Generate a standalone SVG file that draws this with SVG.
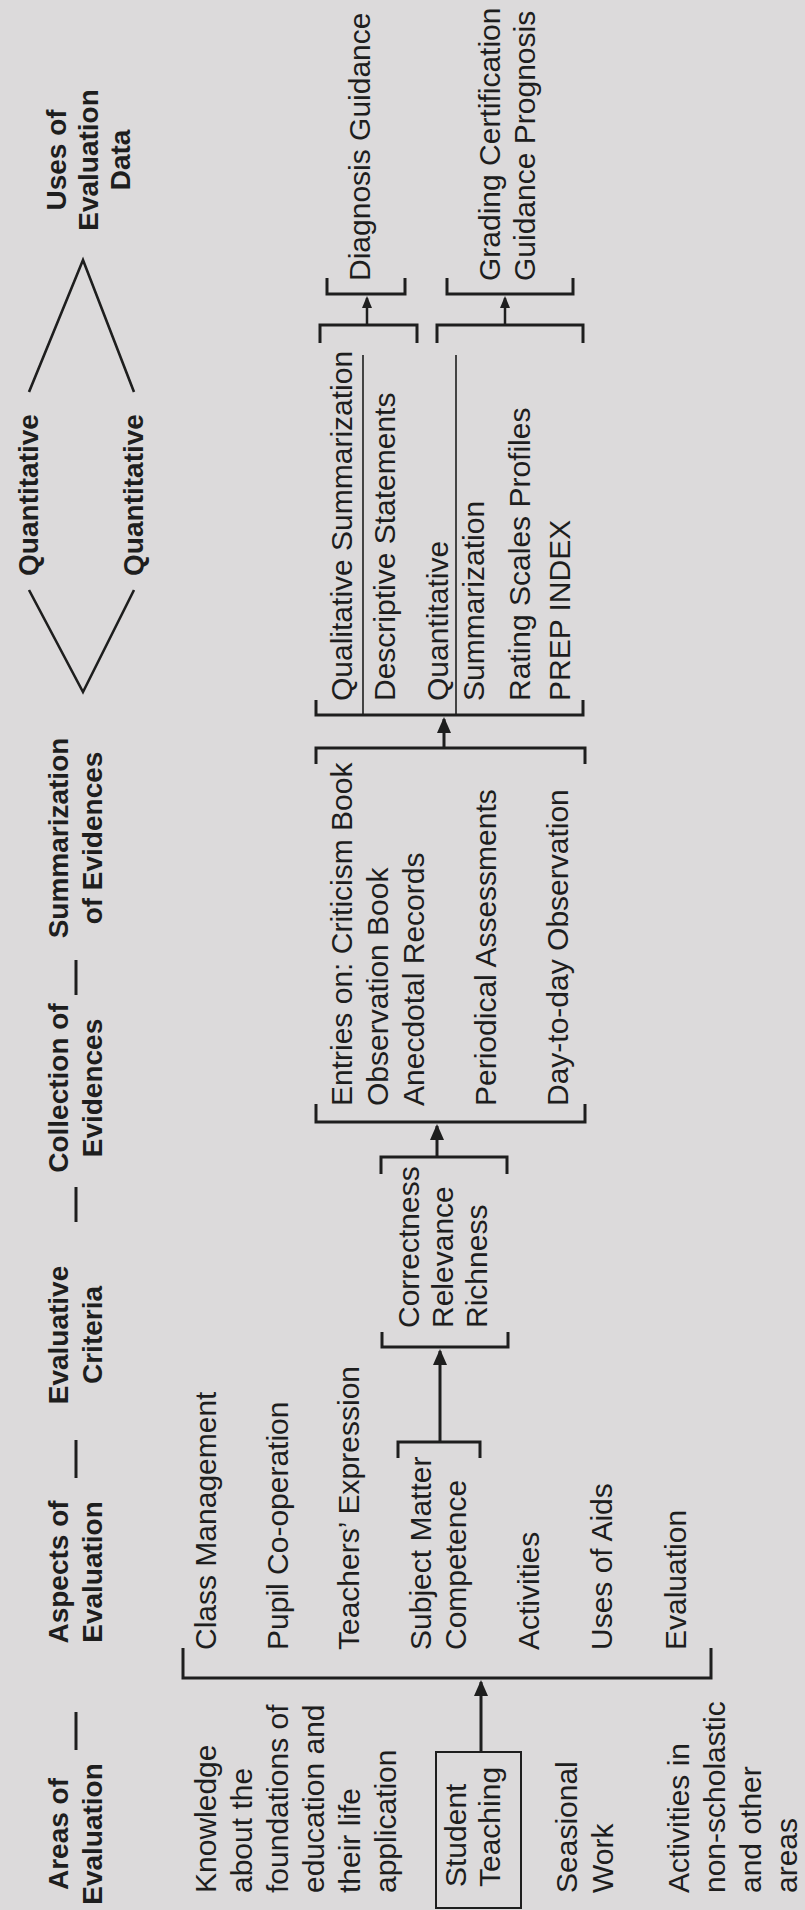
<svg xmlns="http://www.w3.org/2000/svg" width="805" height="1910" viewBox="0 0 805 1910">
<style>
text{font-family:"Liberation Sans",Arial,sans-serif;fill:#1e1e1e}
.h{font-size:28px;font-weight:bold;text-anchor:middle}
.t{font-size:30px}
.br{fill:none;stroke:#1e1e1e;stroke-width:3}
.thin{fill:none;stroke:#1e1e1e;stroke-width:1.6}
.ln{fill:none;stroke:#1e1e1e;stroke-width:2.6}
.ar{fill:none;stroke:#1e1e1e;stroke-width:3;marker-end:url(#ah)}
.ars{fill:none;stroke:#1e1e1e;stroke-width:2.5;marker-end:url(#ahs)}
</style>
<defs>
<marker id="ah" viewBox="0 0 16 14" markerWidth="16" markerHeight="14" refX="14" refY="7" orient="auto" markerUnits="userSpaceOnUse"><path d="M0,0 L16,7 L0,14 z" fill="#1e1e1e"/></marker>
<marker id="ahs" viewBox="0 0 12 10" markerWidth="12" markerHeight="10" refX="10" refY="5" orient="auto" markerUnits="userSpaceOnUse"><path d="M0,0 L12,5 L0,10 z" fill="#1e1e1e"/></marker>
</defs>
<rect x="0" y="0" width="805" height="1910" fill="#dcdadb"/>

<g id="headers">
<g id="h-areas"><text class="h" transform="translate(68,1834) rotate(-90)"><tspan x="0" y="0">Areas of</tspan><tspan x="0" y="34">Evaluation</tspan></text></g>
<g id="h-aspects"><text class="h" transform="translate(68,1572) rotate(-90)"><tspan x="0" y="0">Aspects of</tspan><tspan x="0" y="34">Evaluation</tspan></text></g>
<g id="h-criteria"><text class="h" transform="translate(68,1335) rotate(-90)"><tspan x="0" y="0">Evaluative</tspan><tspan x="0" y="34">Criteria</tspan></text></g>
<g id="h-collection"><text class="h" transform="translate(68,1088) rotate(-90)"><tspan x="0" y="0">Collection of</tspan><tspan x="0" y="34">Evidences</tspan></text></g>
<g id="h-summ"><text class="h" transform="translate(68,838) rotate(-90)"><tspan x="0" y="0">Summarization</tspan><tspan x="0" y="34">of Evidences</tspan></text></g>
<g id="h-quant1"><text class="h" transform="translate(38,495) rotate(-90)">Quantitative</text></g>
<g id="h-quant2"><text class="h" transform="translate(143,495) rotate(-90)">Quantitative</text></g>
<g id="h-uses"><text class="h" transform="translate(66,160) rotate(-90)"><tspan x="0" y="0">Uses of</tspan><tspan x="0" y="32">Evaluation</tspan><tspan x="0" y="64">Data</tspan></text></g>
</g>

<g id="areas">
<g id="n-knowledge"><text class="t" transform="translate(216,1893) rotate(-90)"><tspan x="0" y="0">Knowledge</tspan><tspan x="0" y="36">about the</tspan><tspan x="0" y="72">foundations of</tspan><tspan x="0" y="108">education and</tspan><tspan x="0" y="144">their life</tspan><tspan x="0" y="180">application</tspan></text></g>
<g id="n-student"><rect x="436" y="1752" width="85" height="156" fill="none" stroke="#1e1e1e" stroke-width="2"/><text class="t" transform="translate(466,1887) rotate(-90)"><tspan x="0" y="0">Student</tspan><tspan x="0" y="34">Teaching</tspan></text></g>
<g id="n-seasional"><text class="t" transform="translate(577,1893) rotate(-90)"><tspan x="0" y="0">Seasional</tspan><tspan x="0" y="36">Work</tspan></text></g>
<g id="n-activities"><text class="t" transform="translate(689,1893) rotate(-90)"><tspan x="0" y="0">Activities in</tspan><tspan x="0" y="36">non-scholastic</tspan><tspan x="0" y="72">and other</tspan><tspan x="0" y="108">areas</tspan></text></g>
</g>

<g id="aspects">
<text class="t" transform="translate(216,1650) rotate(-90)">Class Management</text>
<text class="t" transform="translate(288,1650) rotate(-90)">Pupil Co-operation</text>
<text class="t" transform="translate(359,1650) rotate(-90)">Teachers’ Expression</text>
<text class="t" transform="translate(431,1650) rotate(-90)"><tspan x="0" y="0">Subject Matter</tspan><tspan x="0" y="35">Competence</tspan></text>
<text class="t" transform="translate(539,1650) rotate(-90)">Activities</text>
<text class="t" transform="translate(612,1650) rotate(-90)">Uses of Aids</text>
<text class="t" transform="translate(686,1650) rotate(-90)">Evaluation</text>
</g>

<g id="criteria"><text class="t" transform="translate(419,1328) rotate(-90)"><tspan x="0" y="0">Correctness</tspan><tspan x="0" y="34">Relevance</tspan><tspan x="0" y="68">Richness</tspan></text></g>

<g id="evidences"><text class="t" transform="translate(352,1106) rotate(-90)"><tspan x="0" y="0">Entries on: Criticism Book</tspan><tspan x="0" y="36">Observation Book</tspan><tspan x="0" y="72">Anecdotal Records</tspan><tspan x="0" y="144">Periodical Assessments</tspan><tspan x="0" y="216">Day-to-day Observation</tspan></text></g>

<g id="summarization">
<text class="t" transform="translate(352,701) rotate(-90)">Qualitative Summarization</text>
<text class="t" transform="translate(395,701) rotate(-90)">Descriptive Statements</text>
<text class="t" transform="translate(448,701) rotate(-90)">Quantitative</text>
<text class="t" transform="translate(484,701) rotate(-90)">Summarization</text>
<text class="t" transform="translate(530,701) rotate(-90)"><tspan x="0" y="0">Rating Scales Profiles</tspan><tspan x="0" y="40">PREP INDEX</tspan></text>
</g>

<g id="uses">
<g id="n-diagnosis"><text class="t" transform="translate(370,281) rotate(-90)">Diagnosis Guidance</text></g>
<g id="n-grading"><text class="t" transform="translate(500,281) rotate(-90)"><tspan x="0" y="0">Grading Certification</tspan><tspan x="0" y="35">Guidance Prognosis</tspan></text></g>
</g>

<g id="connectors">
<path class="br" d="M76,960 V995 M76,1187 V1222 M76,1440 V1478 M76,1712 V1750"/>
<polyline class="ln" points="29,392 83,260 134,392"/>
<polyline class="ln" points="29,590 83,692 134,590"/>
<path class="br" d="M183,1648 V1678 H711 V1648"/>
<path class="br" d="M398,1458 V1442 H480 V1458"/>
<path class="br" d="M382,1332 V1347 H508 V1332"/>
<path class="br" d="M381,1174 V1157 H507 V1174"/>
<path class="br" d="M316,1104 V1122 H585 V1104"/>
<path class="br" d="M316,764 V748 H585 V764"/>
<path class="br" d="M316,700 V715 H583 V700"/>
<path class="br" d="M320,343 V325 H417 V343"/>
<path class="br" d="M437,343 V325 H583 V343"/>
<path class="br" d="M327,278 V294 H405 V278"/>
<path class="br" d="M447,278 V294 H573 V278"/>
<path class="thin" d="M363,355 V715 M456,355 V715"/>
<line class="ar" x1="481" y1="1752" x2="481" y2="1682"/>
<line class="ar" x1="440" y1="1442" x2="440" y2="1351"/>
<line class="ar" x1="437" y1="1157" x2="437" y2="1126"/>
<line class="ar" x1="444" y1="748" x2="444" y2="719"/>
<line class="ars" x1="367" y1="325" x2="367" y2="298"/>
<line class="ars" x1="505" y1="325" x2="505" y2="298"/>
</g>
</svg>
